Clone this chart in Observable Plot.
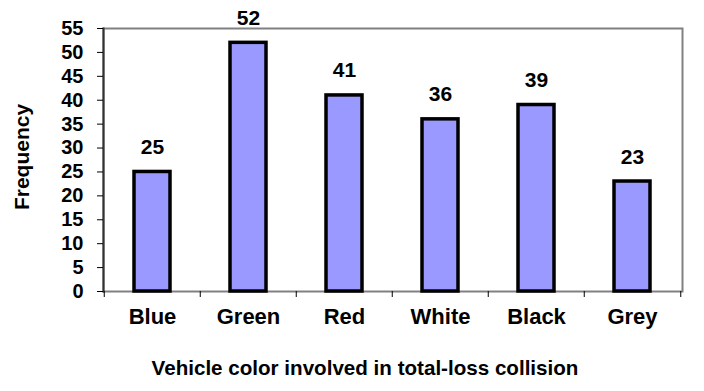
<!DOCTYPE html>
<html>
<head>
<meta charset="utf-8">
<script src="https://cdn.jsdelivr.net/npm/d3@7"></script>
<script src="https://cdn.jsdelivr.net/npm/@observablehq/plot@0.6"></script>
<style>
  html, body { margin: 0; padding: 0; background: #fff; }
  #chart { width: 704px; height: 391px; }
</style>
</head>
<body>
<div id="chart"></div>
<script>
const colors = ["Blue", "Green", "Red", "White", "Black", "Grey"];
const frequency = [25, 52, 41, 36, 39, 23];
const yTicks = [0, 5, 10, 15, 20, 25, 30, 35, 40, 45, 50, 55];
const xTitle = "Vehicle color involved in total-loss collision";
const yTitle = "Frequency";

const data = colors.map((c, i) => ({color: c, freq: frequency[i]}));

const W = 704, H = 391;
const mL = 103, mR = 22, mT = 28, mB = 100;
const step = (W - mL - mR) / colors.length;
const font = "'Liberation Sans', Arial, Helvetica, sans-serif";

const chart = Plot.plot({
  width: W,
  height: H,
  marginLeft: mL,
  marginRight: mR,
  marginTop: mT,
  marginBottom: mB,
  style: {fontFamily: font, background: "#fff", color: "#000"},
  x: {domain: colors, paddingInner: 0.62, paddingOuter: 0.31, axis: null},
  y: {domain: [0, 55], axis: null},
  marks: [
    Plot.frame({stroke: "#808080", strokeWidth: 2}),
    Plot.barY(data, {x: "color", y: "freq", fill: "#9999FF", stroke: "#000", strokeWidth: 3.5}),
    Plot.frame({anchor: "left", stroke: "#333", strokeWidth: 2}),
    Plot.axisY({ticks: yTicks, tickSize: 6, tickPadding: 14, fontSize: 20, fontWeight: "bold", label: null, stroke: "#000"}),
    Plot.axisX({tickSize: 0, tickPadding: 17, fontSize: 22, fontWeight: "bold", label: null}),
    Plot.ruleX(colors, {x: d => d, y1: 0, y2: 0, insetBottom: -6, dx: -step / 2, stroke: "#000", strokeWidth: 1}),
    Plot.ruleX(colors.slice(-1), {x: d => d, y1: 0, y2: 0, insetBottom: -6, dx: step / 2, stroke: "#000", strokeWidth: 1}),
    Plot.text(data, {x: "color", y: "freq", text: d => String(d.freq), lineAnchor: "bottom", dy: -18, fontSize: 21, fontWeight: "bold", fill: "#000"}),
    Plot.text([xTitle], {frameAnchor: "bottom", text: d => d, textAnchor: "middle", lineAnchor: "bottom", dx: -28, dy: 83, fontSize: 20.6, fontWeight: "bold", fill: "#000"}),
    Plot.text([yTitle], {frameAnchor: "left", text: d => d, textAnchor: "middle", rotate: -90, lineAnchor: "bottom", dx: -75, dy: -3, fontSize: 21, fontWeight: "bold", fill: "#000"})
  ]
});
document.getElementById("chart").appendChild(chart);
</script>
</body>
</html>
